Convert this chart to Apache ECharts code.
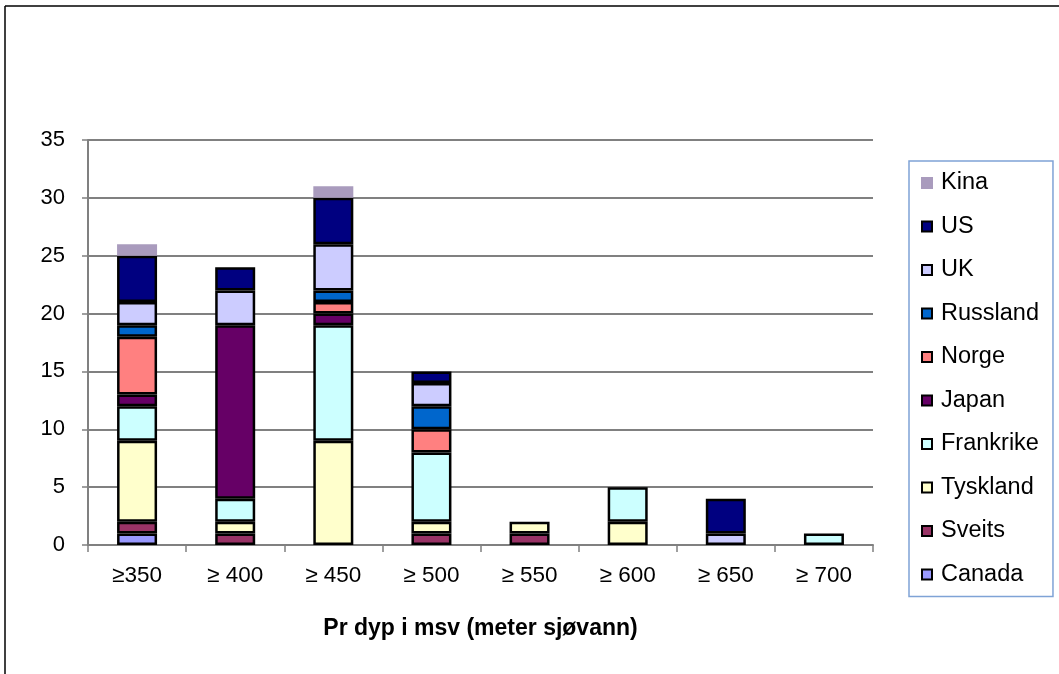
<!DOCTYPE html>
<html>
<head>
<meta charset="utf-8">
<script src="https://cdn.jsdelivr.net/npm/echarts@6/dist/echarts.min.js"></script>
<style>
html,body{margin:0;padding:0;background:#fff;}
#chart{width:1059px;height:674px;}
</style>
</head>
<body>
<div id="chart"></div>
<script>
// Categories (depth in metres of sea water)
var categories = ['\u2265350', '\u2265 400', '\u2265 450', '\u2265 500', '\u2265 550', '\u2265 600', '\u2265 650', '\u2265 700'];
var yTicks = [0, 5, 10, 15, 20, 25, 30, 35];

// Series values per category
var canada    = [1, 0, 0, 0, 0, 0, 0, 0];
var sveits    = [1, 1, 0, 1, 1, 0, 0, 0];
var tyskland  = [7, 1, 9, 1, 1, 2, 0, 0];
var frankrike = [3, 2, 10, 6, 0, 3, 0, 1];
var japan     = [1, 15, 1, 0, 0, 0, 0, 0];
var norge     = [5, 0, 1, 2, 0, 0, 0, 0];
var russland  = [1, 0, 1, 2, 0, 0, 0, 0];
var uk        = [2, 3, 4, 2, 0, 0, 1, 0];
var us        = [4, 2, 4, 1, 0, 0, 3, 0];
var kina      = [1, 0, 1, 0, 0, 0, 0, 0];

var seriesDefs = [
  {name: 'Canada', data: canada, color: '#9999FF'},
  {name: 'Sveits', data: sveits, color: '#993366'},
  {name: 'Tyskland', data: tyskland, color: '#FFFFCC'},
  {name: 'Frankrike', data: frankrike, color: '#CCFFFF'},
  {name: 'Japan', data: japan, color: '#660066'},
  {name: 'Norge', data: norge, color: '#FF8080'},
  {name: 'Russland', data: russland, color: '#0066CC'},
  {name: 'UK', data: uk, color: '#CCCCFF'},
  {name: 'US', data: us, color: '#000080'},
  {name: 'Kina', data: kina, color: '#A99BBD', noBorder: true}
];

var FONT = '"Liberation Sans", Arial, sans-serif';

var chart = echarts.init(document.getElementById('chart'), null, {renderer: 'canvas'});

var series = seriesDefs.map(function (s) {
  return {
    name: s.name,
    type: 'bar',
    stack: 'total',
    barWidth: 40,
    data: s.data.map(function (v) { return v === 0 ? null : v; }),
    itemStyle: {
      color: s.color,
      borderColor: s.noBorder ? s.color : '#000000',
      borderWidth: s.noBorder ? 0 : 2.5
    },
    emphasis: {disabled: true}
  };
});

var option = {
  animation: false,
  backgroundColor: '#ffffff',
  textStyle: {fontFamily: FONT},
  grid: {left: 88, top: 140, width: 785, height: 405, containLabel: false},
  legend: {
    orient: 'vertical',
    left: 909,
    top: 161,
    padding: [10, 14, 10, 12],
    itemGap: 19.5,
    itemWidth: 10,
    itemHeight: 10,
    icon: 'rect',
    borderColor: '#7FA3D6',
    borderWidth: 1.5,
    backgroundColor: '#ffffff',
    data: ['Kina', 'US', 'UK', 'Russland', 'Norge', 'Japan', 'Frankrike', 'Tyskland', 'Sveits', 'Canada'],
    itemStyle: {borderWidth: 2},
    textStyle: {fontFamily: FONT, fontSize: 23.5, color: '#000', padding: [0, 0, 0, 4], lineHeight: 22}
  },
  xAxis: {
    type: 'category',
    data: categories,
    name: 'Pr dyp i msv (meter sj\u00f8vann)',
    nameLocation: 'middle',
    nameGap: 72,
    nameTextStyle: {fontFamily: FONT, fontSize: 23, fontWeight: 'bold', color: '#000'},
    axisLine: {show: true, lineStyle: {color: '#808080', width: 2}},
    axisTick: {show: true, alignWithLabel: false, length: 7, lineStyle: {color: '#808080', width: 1.5}},
    axisLabel: {fontFamily: FONT, fontSize: 22.5, color: '#000', margin: 19},
    splitLine: {show: false}
  },
  yAxis: {
    type: 'value',
    min: yTicks[0],
    max: yTicks[yTicks.length - 1],
    interval: 5,
    axisLine: {show: true, lineStyle: {color: '#808080', width: 2}},
    axisTick: {show: true, length: 6, lineStyle: {color: '#808080', width: 1.5}},
    axisLabel: {fontFamily: FONT, fontSize: 22, color: '#000', margin: 23},
    splitLine: {show: true, lineStyle: {color: '#808080', width: 2}}
  },
  graphic: [
    {type: 'line', shape: {x1: 5, y1: 6, x2: 1059, y2: 6}, style: {stroke: '#000', lineWidth: 1.5}, silent: true},
    {type: 'line', shape: {x1: 5, y1: 6, x2: 5, y2: 674}, style: {stroke: '#000', lineWidth: 1.5}, silent: true}
  ],
  series: series
};

chart.setOption(option);
</script>
</body>
</html>
